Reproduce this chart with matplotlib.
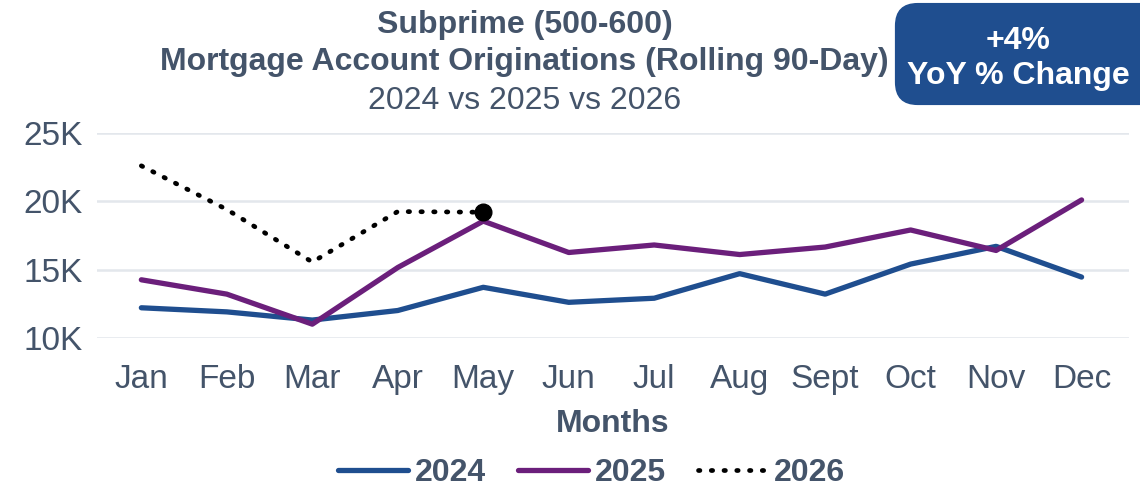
import numpy as np
import matplotlib
matplotlib.use("Agg")
import matplotlib.pyplot as plt
from matplotlib.patches import FancyBboxPatch

plt.rcParams['font.family'] = ['Liberation Sans', 'DejaVu Sans']

months = ["Jan", "Feb", "Mar", "Apr", "May", "Jun", "Jul", "Aug", "Sept", "Oct", "Nov", "Dec"]
y2024 = [12.2, 11.9, 11.3, 12.0, 13.7, 12.6, 12.9, 14.7, 13.2, 15.4, 16.7, 14.45]
y2025 = [14.25, 13.2, 11.0, 15.15, 18.55, 16.25, 16.8, 16.1, 16.65, 17.9, 16.4, 20.1]
y2026 = [22.6, 19.4, 15.55, 19.25, 19.2]
yticks = [10, 15, 20, 25]

gray = "#44546A"
blue = "#1F4E8F"
purple = "#6B1F7B"

fig = plt.figure(figsize=(11.4, 4.91), dpi=100)
ax = fig.add_axes([0.085, 0.312, 0.905, 0.417])

x = np.arange(len(months))
ax.plot(x, y2024, color=blue, lw=3.8, solid_capstyle="round", label="2024")
ax.plot(x, y2025, color=purple, lw=3.8, solid_capstyle="round", label="2025")
ax.plot(x[:len(y2026)], y2026, color="black", lw=3.4, ls=(0, (0.3, 2.4)),
        dash_capstyle="round", label="2026")
ax.plot(x[len(y2026) - 1], y2026[-1], "o", color="black", ms=12, zorder=5)

ax.set_xlim(-0.52, 11.55)
ax.set_ylim(10, 25)
ax.set_yticks(yticks)
ax.set_yticklabels([f"{v}K" for v in yticks])
ax.set_xticks(x)
ax.set_xticklabels(months)
ax.grid(axis="y", color="#E3E7EC", lw=1.8)
ax.set_axisbelow(True)
for s in ax.spines.values():
    s.set_visible(False)
ax.tick_params(length=0, labelsize=24, labelcolor=gray)
ax.tick_params(axis="x", pad=19)
ax.tick_params(axis="y", pad=10)
ax.set_xlabel("Months", fontsize=23, fontweight="bold", color=gray, labelpad=10)

fig.text(0.46, 0.95, "Subprime (500-600)", ha="center", va="center",
         fontsize=23, fontweight="bold", color=gray)
fig.text(0.46, 0.873, "Mortgage Account Originations (Rolling 90-Day)", ha="center",
         va="center", fontsize=23, fontweight="bold", color=gray)
fig.text(0.46, 0.795, "2024 vs 2025 vs 2026", ha="center", va="center",
         fontsize=23, color=gray)

box = FancyBboxPatch((0.785, 0.786), 0.235, 0.208, boxstyle="round,pad=0,rounding_size=0.02",
                     transform=fig.transFigure, facecolor=blue, edgecolor="none",
                     mutation_aspect=11.4 / 4.91)
fig.patches.append(box)
fig.text(0.893, 0.917, "+4%", ha="center", va="center", fontsize=23,
         fontweight="bold", color="white")
fig.text(0.893, 0.846, "YoY % Change", ha="center", va="center", fontsize=23,
         fontweight="bold", color="white")

leg = fig.legend(loc="center", bbox_to_anchor=(0.519, 0.037), ncol=3, frameon=False,
                 handlelength=2.2, columnspacing=1.0, handletextpad=0.2,
                 prop={"weight": "bold", "size": 23})
for t in leg.get_texts():
    t.set_color(gray)

fig.savefig("out.png", dpi=100)
